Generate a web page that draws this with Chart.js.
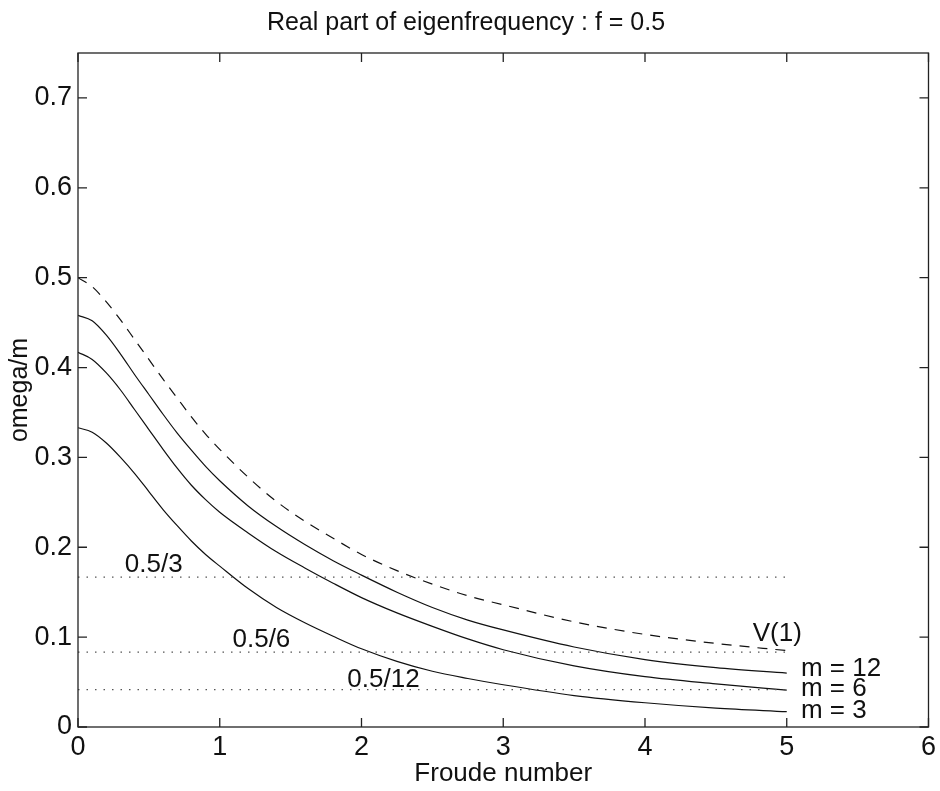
<!DOCTYPE html>
<html>
<head>
<meta charset="utf-8">
<script src="https://cdn.jsdelivr.net/npm/chart.js@4/dist/chart.umd.min.js"></script>
<style>
  html, body { margin: 0; padding: 0; background: #fff; }
  #wrap { width: 940px; height: 791px; }
</style>
</head>
<body>
<div id="wrap"><canvas id="chart" width="940" height="791"></canvas></div>
<script>
// Werte
const froude = [0, 0.1, 0.2, 0.3, 0.4, 0.5, 0.6, 0.7, 0.8, 0.9, 1.0, 1.2, 1.4, 1.6, 1.8, 2.0, 2.25, 2.5, 2.75, 3.0, 3.5, 4.0, 4.5, 5.0];
const vOne   = [0.500, 0.490, 0.473, 0.453, 0.431, 0.409, 0.387, 0.366, 0.345, 0.326, 0.309, 0.278, 0.251, 0.229, 0.210, 0.192, 0.174, 0.159, 0.146, 0.136, 0.117, 0.103, 0.093, 0.085];
const m12    = [0.458, 0.452, 0.436, 0.415, 0.392, 0.370, 0.348, 0.327, 0.308, 0.290, 0.274, 0.246, 0.223, 0.203, 0.185, 0.169, 0.150, 0.133, 0.119, 0.108, 0.089, 0.075, 0.066, 0.060];
const m6     = [0.417, 0.409, 0.394, 0.375, 0.353, 0.331, 0.309, 0.288, 0.269, 0.253, 0.239, 0.216, 0.195, 0.177, 0.160, 0.144, 0.127, 0.112, 0.098, 0.086, 0.068, 0.056, 0.048, 0.041];
const m3     = [0.333, 0.328, 0.316, 0.300, 0.282, 0.262, 0.242, 0.224, 0.207, 0.192, 0.179, 0.154, 0.133, 0.116, 0.101, 0.087, 0.073, 0.062, 0.054, 0.047, 0.035, 0.027, 0.021, 0.017];

// gepunktete Linien 0.5/m
const levels = [0.5 / 3, 0.5 / 6, 0.5 / 12];
const levelEnd = [0, 5];

const xTicks = [0, 1, 2, 3, 4, 5, 6];
const yTicks = [0, 0.1, 0.2, 0.3, 0.4, 0.5, 0.6, 0.7];

// Beschriftungen im Diagramm (Datenkoordinaten: linke Kante, Mitte)
const noteText = ["0.5/3", "0.5/6", "0.5/12", "V(1)", "m = 12", "m = 6", "m = 3"];
const noteX    = [0.33, 1.09, 1.90, 4.76, 5.10, 5.10, 5.10];
const noteY    = [0.180, 0.097, 0.053, 0.104, 0.065, 0.042, 0.018];

const FONT = "'Liberation Sans', Arial, Helvetica, sans-serif";
const INK = '#111';

function pts(ys) {
  return froude.map(function (x, i) { return { x: x, y: ys[i] }; });
}

let datasets = [];
levels.forEach(function (lv) {
  datasets.push({
    data: levelEnd.map(function (x) { return { x: x, y: lv }; }),
    borderColor: '#555', borderWidth: 1.3, borderDash: [1.5, 7], pointRadius: 0
  });
});
datasets.push({ data: pts(vOne), borderColor: INK, borderWidth: 1.2, borderDash: [10, 8], pointRadius: 0, cubicInterpolationMode: 'monotone' });
datasets.push({ data: pts(m12), borderColor: INK, borderWidth: 1.2, pointRadius: 0, cubicInterpolationMode: 'monotone' });
datasets.push({ data: pts(m6), borderColor: INK, borderWidth: 1.2, pointRadius: 0, cubicInterpolationMode: 'monotone' });
datasets.push({ data: pts(m3), borderColor: INK, borderWidth: 1.2, pointRadius: 0, cubicInterpolationMode: 'monotone' });

// Rahmen, nach innen zeigende Striche und Texte im Stil von MATLAB
const boxPlugin = {
  id: 'boxPlugin',
  afterDatasetsDraw(chart) {
    const ctx = chart.ctx;
    const a = chart.chartArea;
    const xs = chart.scales.x;
    const ys = chart.scales.y;
    const len = 9;
    ctx.save();
    ctx.strokeStyle = '#222';
    ctx.lineWidth = 1.3;
    ctx.strokeRect(a.left, a.top, a.right - a.left, a.bottom - a.top);
    ctx.beginPath();
    xTicks.forEach(function (t) {
      const px = xs.getPixelForValue(t);
      ctx.moveTo(px, a.bottom); ctx.lineTo(px, a.bottom - len);
      ctx.moveTo(px, a.top); ctx.lineTo(px, a.top + len);
    });
    yTicks.forEach(function (t) {
      const py = ys.getPixelForValue(t);
      ctx.moveTo(a.left, py); ctx.lineTo(a.left + len, py);
      ctx.moveTo(a.right, py); ctx.lineTo(a.right - len, py);
    });
    ctx.stroke();

    ctx.fillStyle = INK;
    ctx.font = '26px ' + FONT;
    ctx.textAlign = 'left';
    ctx.textBaseline = 'middle';
    noteText.forEach(function (txt, i) {
      ctx.fillText(txt, xs.getPixelForValue(noteX[i]), ys.getPixelForValue(noteY[i]));
    });
    ctx.restore();
  }
};

new Chart(document.getElementById('chart'), {
  type: 'line',
  data: { datasets: datasets },
  plugins: [boxPlugin],
  options: {
    responsive: false,
    animation: false,
    layout: { padding: { right: 8 } },
    plugins: {
      legend: { display: false },
      tooltip: { enabled: false },
      title: {
        display: true,
        text: 'Real part of eigenfrequency : f = 0.5',
        color: INK,
        font: { family: FONT, size: 25, weight: 'normal' },
        padding: { top: 8, bottom: 15 }
      }
    },
    scales: {
      x: {
        type: 'linear',
        min: 0, max: 6,
        grid: { display: false, drawTicks: false },
        border: { display: false },
        afterBuildTicks: function (s) { s.ticks = xTicks.map(function (v) { return { value: v }; }); },
        afterFit: function (s) { s.height = 64; },
        ticks: {
          color: INK, padding: 4,
          font: { family: FONT, size: 27 },
          maxRotation: 0,
          callback: function (v) { return String(v); }
        },
        title: {
          display: true, text: 'Froude number', color: INK,
          font: { family: FONT, size: 26 }, padding: { top: 0, bottom: 2 }
        }
      },
      y: {
        type: 'linear',
        min: 0, max: 0.75,
        grid: { display: false, drawTicks: false },
        border: { display: false },
        afterBuildTicks: function (s) { s.ticks = yTicks.map(function (v) { return { value: v }; }); },
        afterFit: function (s) { s.width = 78; },
        ticks: {
          color: INK, padding: 6,
          font: { family: FONT, size: 27 },
          callback: function (v) { return v === 0 ? '0' : v.toFixed(1); }
        },
        title: {
          display: true, text: 'omega/m', color: INK,
          font: { family: FONT, size: 25 }, padding: { top: 5, bottom: 0 }
        }
      }
    }
  }
});
</script>
</body>
</html>
